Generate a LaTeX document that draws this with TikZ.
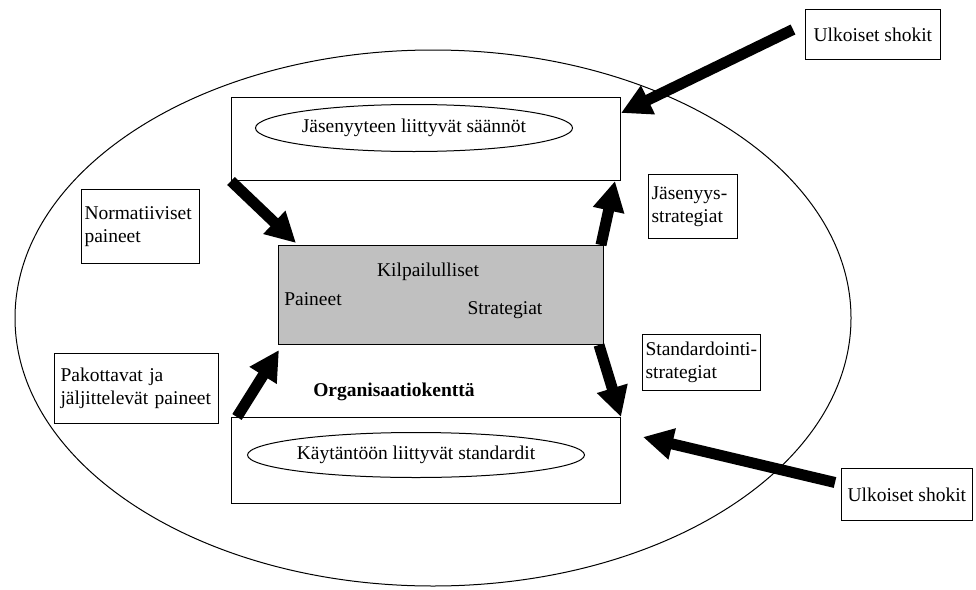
\documentclass[tikz,border=0pt]{standalone}
\usepackage{fontspec}
\setmainfont{Liberation Serif}
\newfontfamily\labelfont{Liberation Serif}
\usetikzlibrary{arrows.meta,calc,shapes.geometric}
\definecolor{panelgray}{RGB}{192,192,192}

\begin{document}
\begin{tikzpicture}[x=1pt,y=-1pt,
  font=\labelfont\fontsize{19.5}{23}\selectfont,
  frame/.style={draw,line width=1pt,inner sep=0pt,anchor=north west},
  tag/.style={draw,line width=1pt,align=left,inner xsep=3pt,inner ysep=2pt,anchor=north west},
  oval/.style={draw,ellipse,line width=1pt,inner sep=0pt},
  bigarrow/.style={line width=11pt,-{Triangle[length=30pt,width=30pt]}},
  ]
\useasboundingbox (0,0) rectangle (976,589);

% organisational field
\node[draw,ellipse,line width=1pt,inner sep=0pt,minimum width=836pt,minimum height=536pt] (field) at (433,318) {};

% membership rules
\node[frame,minimum width=389pt,minimum height=83pt] (rules) at (231,97) {};
\node[oval,minimum width=285pt,minimum height=47pt] (rulesoval) at (414,128) {Jäsenyyteen liittyvät säännöt};

% competitive core
\node[frame,fill=panelgray,minimum width=325pt,minimum height=99pt] (core) at (278,245) {};
\node (kilp) at (428,272) {Kilpailulliset};
\node (pain) at (313,299) {Paineet};
\node (strat) at (505,310) {Strategiat};

\node[font=\labelfont\fontsize{19.5}{23}\selectfont\bfseries] (orgfield) at (394,392) {Organisaatiokenttä};

% practice standards
\node[frame,minimum width=389pt,minimum height=86pt] (practice) at (231,417) {};
\node[oval,minimum width=281pt,minimum height=45pt] (practiceoval) at (416,455) {Käytäntöön liittyvät standardit};

% side labels
\node[tag,text width=112pt,minimum height=74pt] (norm) at (81,189) {Normatiiviset\\paineet};
\node[tag,inner xsep=6pt,text width=152pt,minimum height=70pt] (pakot) at (54,353) {Pakottavat ja\\jäljittelevät paineet};
\node[tag,text width=83pt,minimum height=64pt] (jasen) at (648,174) {Jäsenyys-\\strategiat};
\node[tag,text width=112pt,minimum height=56pt] (stand) at (642,334) {Standardointi-\\strategiat};
\node[tag,align=center,inner xsep=8pt,minimum height=50pt] (shock1) at (805,9) {Ulkoiset shokit};
\node[tag,align=center,inner xsep=6pt,minimum height=52pt] (shock2) at (841,468) {Ulkoiset shokit};

% flows
\draw[bigarrow] (rules.south west) -- ($(core.north west)+(18,-2)$);
\draw[bigarrow] ($(core.north east)+(-3,0)$) -- ($(rules.south east)+(-6,0)$);
\draw[bigarrow] ($(core.south east)+(-5,0)$) -- (practice.north east);
\draw[bigarrow] ($(practice.north west)+(6,0)$) -- ($(core.south west)+(1,5)$);
\draw[bigarrow] ($(shock1.west)+(-12,-5)$) -- ($(rules.north east)+(0,16)$);
\draw[bigarrow] ($(shock2.west)+(-6,-12)$) -- ($(practice.north east)+(22,20)$);
\end{tikzpicture}
\end{document}
